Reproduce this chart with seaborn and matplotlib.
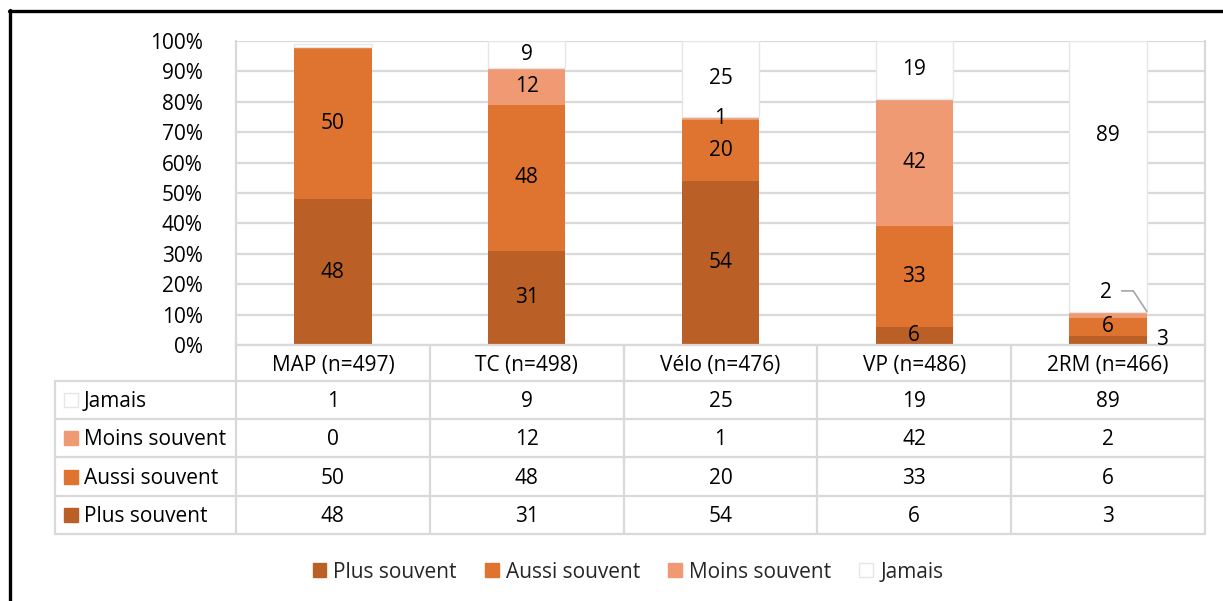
import numpy as np
import pandas as pd
import matplotlib
matplotlib.use("Agg")
import matplotlib.pyplot as plt
import seaborn as sns
from matplotlib.patches import Patch, Rectangle
from matplotlib.lines import Line2D
import matplotlib.transforms as mtrans

# ---------------- data ----------------
categories = ["MAP (n=497)", "TC (n=498)", "Vélo (n=476)", "VP (n=486)", "2RM (n=466)"]
series = ["Plus souvent", "Aussi souvent", "Moins souvent", "Jamais"]
plus_souvent = [48, 31, 54, 6, 3]
aussi_souvent = [50, 48, 20, 33, 6]
moins_souvent = [0, 12, 1, 42, 2]
jamais = [1, 9, 25, 19, 89]
yticks = list(range(0, 101, 10))
ytick_labels = [f"{v}%" for v in yticks]

values = [plus_souvent, aussi_souvent, moins_souvent, jamais]

# ---------------- style ----------------
colors = ["#BA6026", "#DF7430", "#F09A73", "#FFFFFF"]
edgecolors = ["#BA6026", "#DF7430", "#F09A73", "#E6E6E6"]
edgewidths = [0, 0, 0, 1.0]
GRID = "#D9D9D9"
FS = 15

W, H = 1223, 601
L, R, T, B = 236, 1205, 41, 345          # plot area (pixels)
ROW_LINES = [381, 419, 457, 496, 534]     # table row boundaries (pixels)
TABLE_LEFT = 55
TXT_DY = 1.5                              # small downward nudge for table text

sns.set_theme(style="white")
plt.rcParams["font.family"] = ["Open Sans", "DejaVu Sans"]

fig = plt.figure(figsize=(W / 100, H / 100), dpi=100)
ax = fig.add_axes([L / W, 1 - B / H, (R - L) / W, (B - T) / H])

# stacked bars
bottom = np.zeros(len(categories))
for name, vals, c, ec, lw in zip(series, values, colors, edgecolors, edgewidths):
    sns.barplot(x=categories, y=vals, order=categories, ax=ax, color=c,
                saturation=1, width=0.4, errorbar=None,
                bottom=bottom.copy(), edgecolor=ec, linewidth=lw, zorder=2)
    bottom += np.array(vals, dtype=float)

ax.set_xlim(-0.5, len(categories) - 0.5)
ax.set_ylim(0, 100)
ax.set_yticks(yticks)
ax.set_yticklabels(ytick_labels, fontsize=FS, color="black")
ax.set_xticks(range(len(categories)))
ax.set_xticklabels(categories, fontsize=FS, color="black")
ax.tick_params(axis="y", length=0, pad=24)
ax.tick_params(axis="x", length=0, pad=7)
ax.set_xlabel("")
ax.set_ylabel("")
ax.yaxis.grid(True, color=GRID, lw=1.6, zorder=0)
ax.set_axisbelow(True)
for s in ["left", "right", "bottom"]:
    ax.spines[s].set_color(GRID)
    ax.spines[s].set_linewidth(1.6)
ax.spines["top"].set_visible(False)

# data labels
skip = {(0, 2), (0, 3)}
label_override = {(4, 3): (0.0, 69.0), (4, 2): (-0.01, 17.4), (4, 0): (0.28, 1.8)}
cum = np.zeros(len(categories))
for si, vals in enumerate(values):
    for ci, v in enumerate(vals):
        if (ci, si) not in skip:
            dx, y = label_override.get((ci, si), (0.0, cum[ci] + v / 2))
            ax.text(ci + dx, y, str(v), ha="center", va="center",
                    fontsize=FS, color="black", zorder=5)
    cum += np.array(vals, dtype=float)
# leader line for the small 2RM "Moins souvent" label
ax.add_line(Line2D([4.07, 4.13, 4.2], [17.8, 17.8, 11.0], color="#A6A6A6",
                   lw=1.2, zorder=5))

# ---------------- data table ----------------
ov = fig.add_axes([0, 0, 1, 1], zorder=-1)
ov.set_xlim(0, W)
ov.set_ylim(H, 0)
ov.axis("off")
bt = mtrans.blended_transform_factory(ax.transData, ov.transData)

# horizontal lines
for y in ROW_LINES:
    ov.plot([TABLE_LEFT, R], [y, y], color=GRID, lw=1.6, solid_capstyle="butt")
# vertical lines
ov.plot([TABLE_LEFT, TABLE_LEFT], [ROW_LINES[0], ROW_LINES[-1]], color=GRID, lw=1.6)
for i in range(len(categories) + 1):
    x = i - 0.5
    ov.plot([x, x], [B, ROW_LINES[-1]], color=GRID, lw=1.6, transform=bt)

row_series = list(range(len(series)))[::-1]   # Jamais, Moins, Aussi, Plus
for r, si in enumerate(row_series):
    yc = (ROW_LINES[r] + ROW_LINES[r + 1]) / 2
    ov.add_patch(Rectangle((64, yc - 7), 14, 14, facecolor=colors[si],
                           edgecolor=edgecolors[si] if si == 3 else colors[si],
                           lw=1.0))
    ov.text(84, yc + TXT_DY, series[si], ha="left", va="center", fontsize=FS,
            color="black")
    for ci, v in enumerate(values[si]):
        ov.text(ci, yc + TXT_DY, str(v), ha="center", va="center", fontsize=FS,
                color="black", transform=bt)

# ---------------- legend ----------------
handles = [Patch(facecolor=c, edgecolor=(ec if lw else c), lw=1.0)
           for c, ec, lw in zip(colors, edgecolors, edgewidths)]
fig.legend(handles=handles, labels=series, loc="center",
           bbox_to_anchor=(628 / W, 1 - 572 / H), ncol=4, frameon=False,
           fontsize=FS, handlelength=0.65, handleheight=0.65,
           handletextpad=0.35, columnspacing=1.35)

# ---------------- outer frame (top and left edges) ----------------
fig.add_artist(Line2D([10 / W, 10 / W], [0, 1 - 10 / H], color="black", lw=2.4,
                      transform=fig.transFigure))
fig.add_artist(Line2D([9 / W, 1], [1 - 11 / H, 1 - 11 / H], color="black", lw=2.4,
                      transform=fig.transFigure))

fig.savefig("out.png", dpi=100)
